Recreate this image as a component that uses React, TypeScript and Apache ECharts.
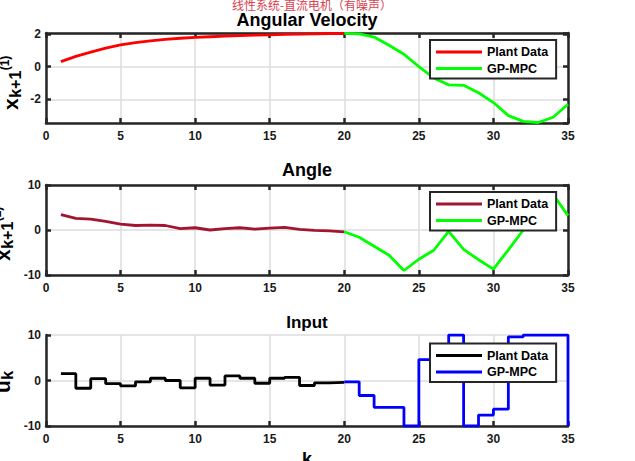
import React, { useEffect, useRef } from 'react';
import * as echarts from 'echarts';

// ---------- data ----------
const kPlant = [1, 2, 3, 4, 5, 6, 7, 8, 9, 10, 11, 12, 13, 14, 15, 16, 17, 18, 19, 20];
const kMpc = [20, 21, 22, 23, 24, 25, 26, 27, 28, 29, 30, 31, 32, 33, 34, 35];

const velocityPlant = [0.3, 0.62, 0.88, 1.12, 1.32, 1.46, 1.57, 1.66, 1.73, 1.78, 1.82, 1.86, 1.89, 1.92, 1.94, 1.96, 1.98, 2.0, 2.02, 2.03];
const velocityMpc = [2.03, 2.0, 1.8, 1.3, 0.75, 0.0, -0.7, -1.12, -1.15, -1.6, -2.2, -3.0, -3.35, -3.42, -3.1, -2.3];

const anglePlant = [3.4, 2.6, 2.4, 1.9, 1.3, 1.0, 1.1, 1.0, 0.3, 0.5, 0.0, 0.3, 0.5, 0.2, 0.4, 0.6, 0.15, -0.1, -0.2, -0.4];
const angleMpc = [-0.4, -1.6, -3.6, -5.6, -9.0, -6.5, -4.5, -0.3, -4.3, -6.6, -8.7, -4.4, 0.0, 4.3, 7.9, 3.2];

const inputPlant = [1.5, -1.7, 0.4, -0.7, -1.2, -0.3, 0.5, 0.0, -1.6, 0.5, -1.0, 1.0, 0.5, -0.6, 0.5, 0.7, -1.1, -0.5, -0.4, -0.3];
const inputMpc = [-0.3, -3.3, -5.9, -5.9, -10, 4.6, 7, 10, -10, -7.6, -6.3, 9.6, 10, 10, 10, -10];

const legendNames = ['Plant Data', 'GP-MPC'];
const titles = ['Angular Velocity', 'Angle', 'Input'];
const supTitle = '线性系统-直流电机（有噪声）';

// ---------- styles ----------
const FONT = '"Liberation Sans", Arial, Helvetica, sans-serif';
const AXIS = '#262626';
const GRIDC = '#dddddd';

const grids = [
  { left: 46, top: 33, width: 522, height: 90 },
  { left: 46, top: 185, width: 522, height: 90 },
  { left: 46, top: 335, width: 522, height: 91 },
];

const pairs = (ks: number[], vs: number[]) => ks.map((k, i) => [k, vs[i]]);

function xAxisPrimary(i: number) {
  return {
    type: 'value', gridIndex: i, min: 0, max: 35, interval: 5, position: 'bottom',
    axisLine: { show: true, onZero: false, lineStyle: { color: AXIS, width: 2.5 } },
    axisTick: { show: true, inside: true, length: 5, lineStyle: { color: AXIS, width: 2.5 } },
    axisLabel: { color: '#1a1a1a', fontSize: 12, fontWeight: 'bold', fontFamily: FONT, margin: 7 },
    splitLine: { show: true, lineStyle: { color: GRIDC, width: 1.5 } },
  };
}
function xAxisTop(i: number) {
  return {
    type: 'value', gridIndex: i, min: 0, max: 35, interval: 5, position: 'top',
    axisLine: { show: true, onZero: false, lineStyle: { color: AXIS, width: 2.5 } },
    axisTick: { show: true, inside: true, length: 5, lineStyle: { color: AXIS, width: 2.5 } },
    axisLabel: { show: false },
    splitLine: { show: false },
  };
}
function yAxisPrimary(i: number, extra: any) {
  return {
    type: 'value', gridIndex: i, position: 'left',
    axisLine: { show: true, onZero: false, lineStyle: { color: AXIS, width: 2.5 } },
    axisTick: { show: true, inside: true, length: 5, lineStyle: { color: AXIS, width: 2.5 } },
    axisLabel: { color: '#1a1a1a', fontSize: 12, fontWeight: 'bold', fontFamily: FONT, margin: 5, ...(extra.axisLabel || {}) },
    splitLine: { show: true, lineStyle: { color: GRIDC, width: 1.5 } },
    ...extra.range,
  };
}
function yAxisRight(i: number, extra: any) {
  return {
    type: 'value', gridIndex: i, position: 'right',
    axisLine: { show: true, onZero: false, lineStyle: { color: AXIS, width: 2.5 } },
    axisTick: { show: true, inside: true, length: 5, lineStyle: { color: AXIS, width: 2.5 } },
    axisLabel: { show: false },
    splitLine: { show: false },
    ...extra.range,
  };
}

const velRange = { range: { min: -3.45, max: 2.05, splitNumber: 3 }, axisLabel: { showMinLabel: false, showMaxLabel: false } };
const tenRange = { range: { min: -10, max: 10, interval: 10 } };

function lineSeries(name: string, xi: number, data: number[][], color: string, step?: string) {
  return {
    type: 'line', name, xAxisIndex: xi, yAxisIndex: xi, data,
    showSymbol: false, symbol: 'none', step: step || false,
    lineStyle: { color, width: 2.8 }, itemStyle: { color }, z: 3,
  };
}

function legend(top: number, c1: string, c2: string) {
  return {
    show: true, orient: 'vertical', left: 430, top, selectedMode: false,
    padding: [5, 8, 3, 6], itemGap: 2.6, itemWidth: 46, itemHeight: 3, icon: 'rect',
    borderColor: AXIS, borderWidth: 2, backgroundColor: '#ffffff',
    textStyle: { fontSize: 12.5, fontWeight: 'bold', color: '#000', fontFamily: FONT, lineHeight: 14 },
    data: [
      { name: legendNames[0], itemStyle: { color: c1, borderWidth: 0 }, lineStyle: { color: c1 } },
      { name: legendNames[1], itemStyle: { color: c2, borderWidth: 0 }, lineStyle: { color: c2 } },
    ],
    z: 10,
  };
}

function yLabel(x0: number, y0: number, main: string, sub: string, sup: string) {
  const mainW = main === 'x' ? 11.7 : 12.8;
  const subW = sub.length > 1 ? 27 : 8.9;
  const children: any[] = [
    { type: 'text', x: 0, y: 0, style: { text: main, fontSize: 21, fontWeight: 'bold', fontFamily: FONT, fill: '#000', align: 'left', verticalAlign: 'middle' } },
    { type: 'text', x: mainW + 0.5, y: 5, style: { text: sub, fontSize: 16, fontWeight: 'bold', fontFamily: FONT, fill: '#000', align: 'left', verticalAlign: 'middle' } },
  ];
  if (sup) {
    children.push({ type: 'text', x: mainW + subW + 1, y: -5, style: { text: sup, fontSize: 12, fontWeight: 'bold', fontFamily: FONT, fill: '#000', align: 'left', verticalAlign: 'middle' } });
  }
  return { type: 'group', x: x0, y: y0, rotation: Math.PI / 2, children };
}

function titleText(text: string, y: number, size: number) {
  return { type: 'text', x: 307, y, style: { text, fontSize: size, fontWeight: 'bold', fontFamily: FONT, fill: '#000', align: 'center', verticalAlign: 'middle' } };
}

export default function App() {
  const ref = useRef<HTMLDivElement>(null);
  useEffect(() => {
    if (!ref.current) return;
    const chart = echarts.init(ref.current, null, { renderer: 'svg' });
    chart.setOption({
      animation: false,
      backgroundColor: '#ffffff',
      grid: grids.map((g) => ({ ...g, containLabel: false })),
      xAxis: [xAxisPrimary(0), xAxisPrimary(1), xAxisPrimary(2), xAxisTop(0), xAxisTop(1)],
      yAxis: [
        yAxisPrimary(0, velRange), yAxisPrimary(1, tenRange), yAxisPrimary(2, tenRange),
        yAxisRight(0, velRange), yAxisRight(1, tenRange),
      ],
      legend: [legend(40, '#ff0000', '#00ff00'), legend(192, '#A2142F', '#00ff00'), legend(343.5, '#000000', '#0000ff')],
      series: [
        lineSeries(legendNames[0], 0, pairs(kPlant, velocityPlant), '#ff0000'),
        lineSeries(legendNames[1], 0, pairs(kMpc, velocityMpc), '#00ff00'),
        lineSeries(legendNames[0], 1, pairs(kPlant, anglePlant), '#A2142F'),
        lineSeries(legendNames[1], 1, pairs(kMpc, angleMpc), '#00ff00'),
        lineSeries(legendNames[0], 2, pairs(kPlant, inputPlant), '#000000', 'end'),
        lineSeries(legendNames[1], 2, pairs(kMpc, inputMpc), '#0000ff', 'end'),
      ],
      graphic: [
        { type: 'text', x: 312, y: 4, style: { text: supTitle, fontSize: 12, fontFamily: '"Noto Sans CJK SC", sans-serif', fill: '#d9414f', align: 'center', verticalAlign: 'middle' } },
        titleText(titles[0], 20, 18),
        titleText(titles[1], 170, 18),
        titleText(titles[2], 322, 17),
        yLabel(10, 110, 'x', 'k+1', '(1)'),
        yLabel(2, 261, 'x', 'k+1', '(2)'),
        yLabel(2, 393, 'u', 'k', ''),
        { type: 'text', x: 307, y: 450, style: { text: 'k', fontSize: 18, fontWeight: 'bold', fontFamily: FONT, fill: '#000', align: 'center', verticalAlign: 'top' } },
      ],
    });
    return () => chart.dispose();
  }, []);
  return <div ref={ref} style={{ position: 'fixed', left: 0, top: 0, width: 635, height: 461, background: '#fff' }} />;
}
